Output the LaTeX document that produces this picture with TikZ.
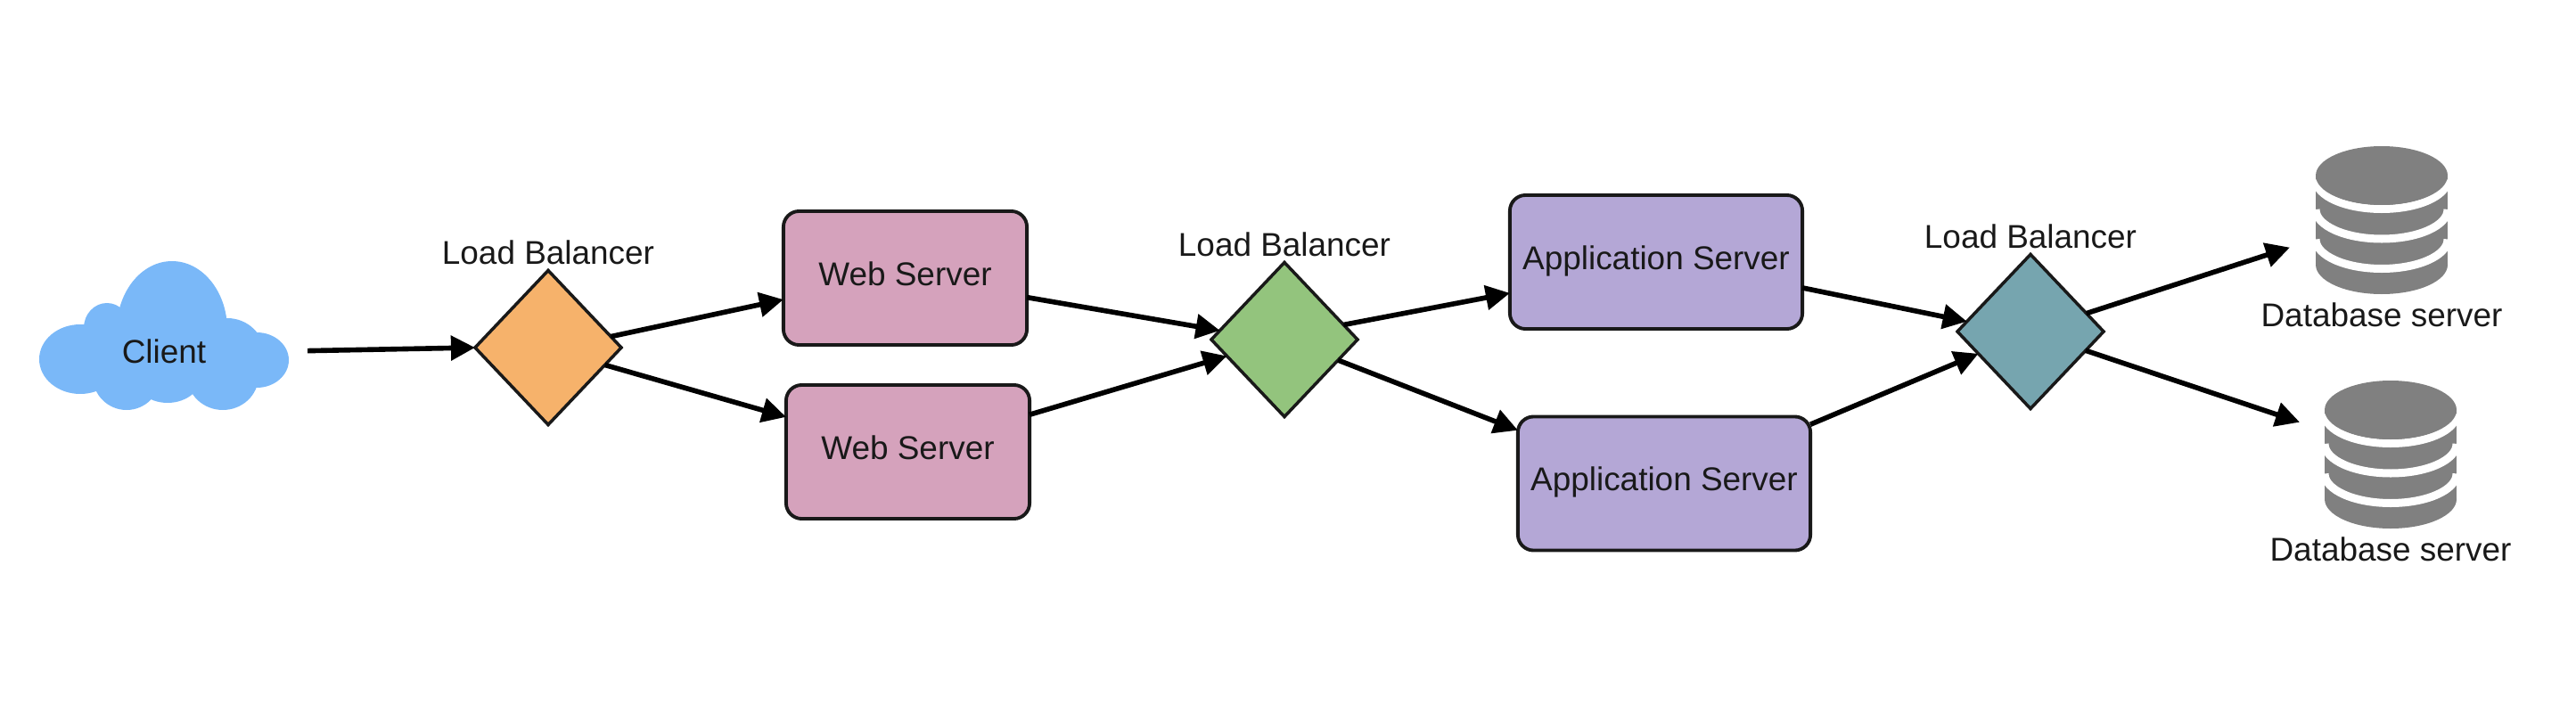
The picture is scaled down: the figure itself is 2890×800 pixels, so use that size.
\documentclass[tikz,border=0pt]{standalone}
\usepackage{fontspec}
\setmainfont{Liberation Sans}
\usetikzlibrary{arrows.meta, positioning, shapes.geometric}
\definecolor{cloudblue}{HTML}{7AB8F8}
\definecolor{lborange}{HTML}{F6B26B}
\definecolor{lbgreen}{HTML}{93C47D}
\definecolor{lbteal}{HTML}{76A5AF}
\definecolor{webpink}{HTML}{D5A2BC}
\definecolor{apppurple}{HTML}{B4A7D6}
\definecolor{dbgrey}{HTML}{808080}

\begin{document}
\begin{tikzpicture}[
      x=0.01cm, y=-0.01cm,
      >={Triangle[length=2.7mm, width=2.7mm]},
      every node/.append style={font=\fontsize{10.5}{12}\selectfont, text=black!90},
      box/.style={rectangle, rounded corners=5pt, draw=black!90, line width=1.1pt,
                  minimum height=1.5cm, minimum width=2.73cm, align=center,
                  inner sep=0pt, outer sep=0pt, text depth=0.1cm},
      webbox/.style={box, fill=webpink},
      appbox/.style={box, fill=apppurple, minimum width=3.28cm},
      lb/.style={diamond, draw=black!90, line width=1pt, inner sep=0pt, outer sep=0pt,
                 minimum width=1.64cm, minimum height=1.73cm},
      lbtext/.style={inner sep=0pt, outer sep=0pt, above=0.07cm of #1},
      dbbox/.style={rectangle, inner sep=0pt, outer sep=0pt,
                    minimum width=1.47cm, minimum height=1.66cm},
      dbtext/.style={inner sep=0pt, outer sep=0pt, below=0.10cm of #1},
      conn/.style={->, line width=1.6pt},
      dbstack/.pic={
        \fill[dbgrey] (-74,-50) rectangle (74,50);
        \fill[dbgrey] (0,50) ellipse[x radius=74, y radius=33];
        \foreach \ya in {-45.5,-12,21.5}
          \draw[white, line width=0.09cm] (74,\ya) arc[start angle=0, end angle=180, x radius=74, y radius=33];
        \fill[dbgrey] (0,-50) ellipse[x radius=74, y radius=33];
      },
    ]
      \useasboundingbox (0,0) rectangle (2890,800);

      % cloud lobes
      \foreach \cx/\cy/\rx/\ry in {193/370/62/77, 90/403/46/39, 120/368/26/28, 288/404/36/31,
                                   255/398/42/41, 142/422/38/38, 188/418/40/34, 250/422/40/38,
                                   190/395/100/45}
        \fill[cloudblue] (\cx,\cy) ellipse[x radius=\rx, y radius=\ry];
      \node[minimum width=2.8cm, inner sep=0pt, outer sep=0pt] (client) at (184,394) {Client};

      \node[lb, fill=lborange] (lbone) at (615,390) {};
      \node[lb, fill=lbgreen] (lbtwo) at (1441,381) {};
      \node[lb, fill=lbteal] (lbthree) at (2278,372) {};
      \node[lbtext=lbone] (lbonetext) {Load Balancer};
      \node[lbtext=lbtwo] (lbtwotext) {Load Balancer};
      \node[lbtext=lbthree] (lbthreetext) {Load Balancer};

      \node[webbox] (webone) at (1015.5,312) {Web Server};
      \node[webbox] (webtwo) at (1018.5,507) {Web Server};
      \node[appbox] (appone) at (1858,294) {Application Server};
      \node[appbox] (apptwo) at (1867,542.5) {Application Server};

      \node[dbbox] (dbone) at (2672,247) {};
      \node[dbbox] (dbtwo) at (2682,510) {};
      \pic at (dbone) {dbstack};
      \pic at (dbtwo) {dbstack};
      \node[dbtext=dbone] (dbonetext) {Database server};
      \node[dbtext=dbtwo] (dbtwotext) {Database server};

      \draw[conn, shorten <=0.21cm] (client.east) -- (lbone.west);
      \draw[conn] (lbone.10) -- (webone.190);
      \draw[conn] (lbone.-17) -- (webtwo.164);
      \draw[conn] (webone.-9) -- (lbtwo.172);
      \draw[conn] (webtwo.17) -- (lbtwo.196);
      \draw[conn] (lbtwo.14) -- (appone.192);
      \draw[conn] (lbtwo.-21) -- (apptwo.160);
      \draw[conn] (appone.-10) -- (lbthree.171);
      \draw[conn] (apptwo.22) -- (lbthree.203);
      \draw[conn, shorten >=0.31cm] (lbthree.18) -- (dbone.196);
      \draw[conn, shorten >=0.30cm] (lbthree.-19) -- (dbtwo.160);
    \end{tikzpicture}
\end{document}
